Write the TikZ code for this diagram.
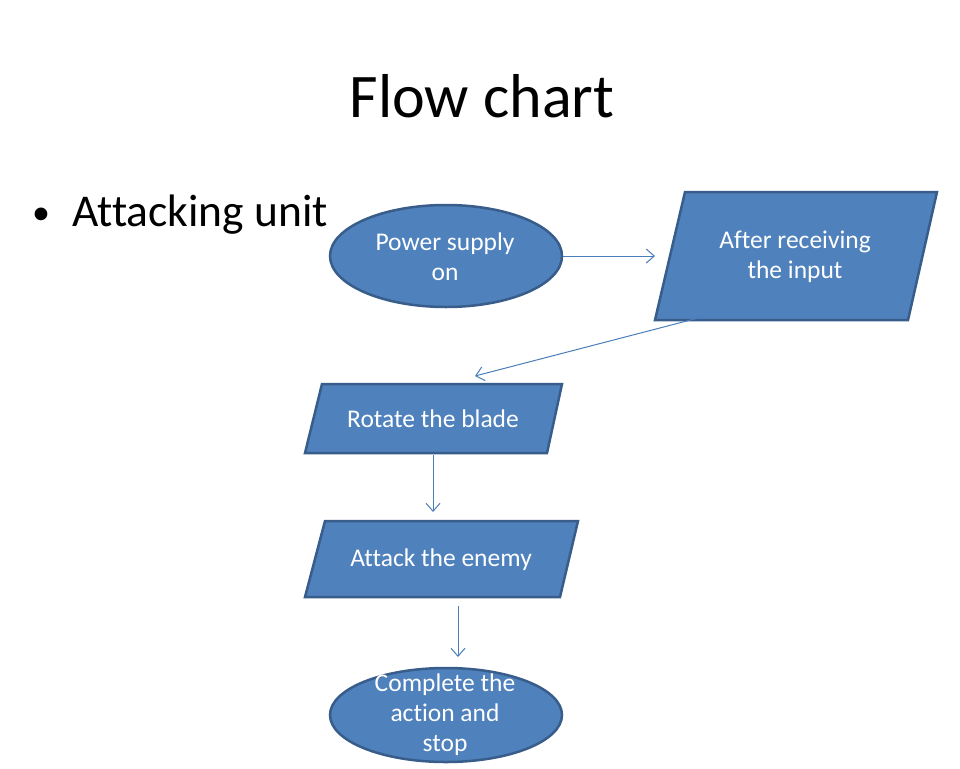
\documentclass[tikz,border=0pt]{standalone}
\usepackage{fontspec}
\setmainfont[Ligatures=NoCommon]{Carlito}
\usetikzlibrary{arrows.meta}
\definecolor{boxfill}{HTML}{4F81BD}
\definecolor{boxline}{HTML}{385D8A}
\definecolor{arrowc}{HTML}{4A7EBB}
\tikzset{
  shapebox/.style={fill=boxfill, draw=boxline, line width=2.5pt, line join=miter},
  label/.style={text=white, align=center, font=\fontsize{25.5}{30}\selectfont, inner sep=0pt},
  conn/.style={draw=arrowc, line width=1pt, -{Straight Barb[length=8pt,width=14pt,line width=1pt]}}
}
\begin{document}
\begin{tikzpicture}[x=1pt,y=-1pt]
\useasboundingbox (0,0) rectangle (960,768);
\fill[white] (0,0) rectangle (960,768);
% title
\node[anchor=base, inner sep=0pt, font=\fontsize{62}{70}\selectfont] (title) at (482,117) {Flow chart};
\node[anchor=base, inner sep=0pt, font=\fontsize{36}{40}\selectfont] (bullet) at (41,224) {•};
\node[anchor=base west, inner sep=0pt, font=\fontsize{45.5}{50}\selectfont] (unit) at (72,226) {Attacking unit};
% shapes
\draw[shapebox] (446,256) ellipse [x radius=116, y radius=51];
\draw[shapebox] (685,192) -- (937,192) -- (908,320) -- (655,320) -- cycle;
\draw[shapebox] (322,384) -- (562,384) -- (547,453) -- (305,453) -- cycle;
\draw[shapebox] (325,521) -- (578,521) -- (560,597) -- (305,597) -- cycle;
\draw[shapebox] (446,715) ellipse [x radius=116, y radius=47];
% texts
\node[label] (power) at (445,257) {Power supply\\on};
\node[label] (after) at (795,257) {After receiving\\the input};
\node[label] (rotate) at (433,419) {Rotate the blade};
\node[label] (attack) at (441,560) {Attack the enemy};
\node[label] (complete) at (445,715) {Complete the\\action and\\stop};
% connector end points
\coordinate (a1s) at (563,256);
\coordinate (a1e) at (655,256);
\coordinate (a2s) at (706,316);
\coordinate (a2e) at (475,376);
\coordinate (a3s) at (433,455);
\coordinate (a3e) at (433,512);
\coordinate (a4s) at (458,606);
\coordinate (a4e) at (458,657);
\draw[conn] (a1s) -- (a1e);
\draw[conn] (a2s) -- (a2e);
\draw[conn] (a3s) -- (a3e);
\draw[conn] (a4s) -- (a4e);
\end{tikzpicture}
\end{document}
